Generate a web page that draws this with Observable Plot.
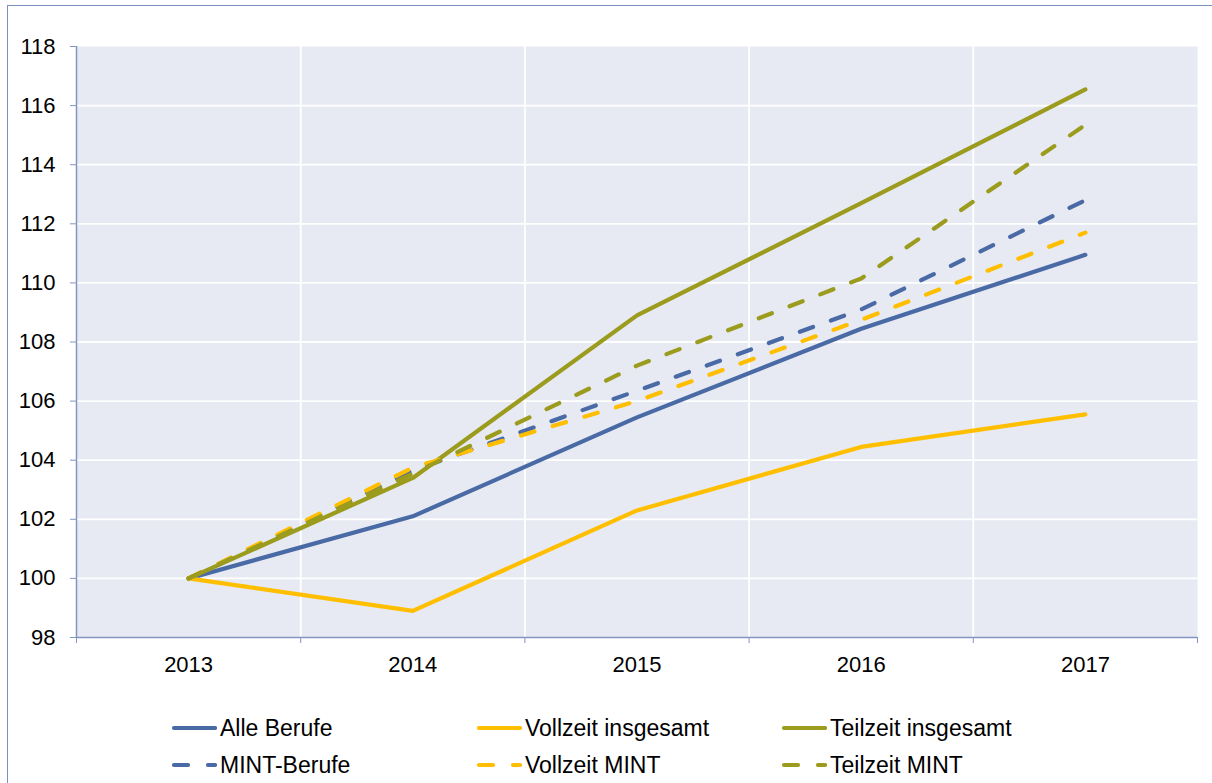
<!DOCTYPE html>
<html>
<head>
<meta charset="utf-8">
<script src="https://cdn.jsdelivr.net/npm/d3@7"></script>
<script src="https://cdn.jsdelivr.net/npm/@observablehq/plot@0.6"></script>
<style>
  html, body { margin: 0; padding: 0; background: #fff; overflow: hidden; }
  #wrap { position: relative; width: 1212px; height: 783px; font-family: "Liberation Sans", Arial, sans-serif; }
  #border { position: absolute; left: 7px; top: 5px; width: 1230px; height: 800px; border: 1.5px solid #7a90bf; box-sizing: border-box; }
  #chart { position: absolute; left: 0; top: 0; }
  .leg { position: absolute; display: flex; align-items: center; font-size: 23px; color: #000; white-space: nowrap; }
</style>
</head>
<body>
<div id="wrap">
  <div id="border"></div>
  <div id="chart"></div>
  <div id="legend"></div>
</div>
<script>
const years = [2013, 2014, 2015, 2016, 2017];
const alleBerufe        = [100, 102.1, 105.45, 108.45, 110.95];
const vollzeitInsgesamt = [100, 98.9, 102.3, 104.45, 105.55];
const teilzeitInsgesamt = [100, 103.4, 108.9, 112.7, 116.55];
const mintBerufe        = [100, 103.65, 106.35, 109.1, 112.8];
const vollzeitMint      = [100, 103.75, 106.0, 108.75, 111.7];
const teilzeitMint      = [100, 103.55, 107.2, 110.15, 115.35];

const seriesNames = ["Alle Berufe", "Vollzeit insgesamt", "Teilzeit insgesamt", "MINT-Berufe", "Vollzeit MINT", "Teilzeit MINT"];
const seriesValues = [alleBerufe, vollzeitInsgesamt, teilzeitInsgesamt, mintBerufe, vollzeitMint, teilzeitMint];
const seriesColors = ["#4a6aa6", "#ffbf00", "#9b9b1d", "#4a6aa6", "#ffbf00", "#9b9b1d"];
const seriesDashed = [false, false, false, true, true, true];
const yTicks = [98, 100, 102, 104, 106, 108, 110, 112, 114, 116, 118];
const yGrid = [100, 102, 104, 106, 108, 110, 112, 114, 116];

const xBoundaries = [2012.5, 2013.5, 2014.5, 2015.5, 2016.5, 2017.5];
const innerBoundaries = xBoundaries.slice(1, -1);

const rows = [];
seriesNames.forEach((name, i) => {
  years.forEach((yr, j) => rows.push({series: name, year: yr, value: seriesValues[i][j], idx: i}));
});

const axisColor = "#8396c2";
const lineMarks = seriesNames.map((name, i) => Plot.line(rows.filter(d => d.idx === i), {
  x: "year", y: "value",
  stroke: seriesColors[i],
  strokeWidth: 4.2,
  strokeLinecap: "round",
  strokeLinejoin: "round",
  strokeDasharray: seriesDashed[i] ? "14,19" : null
}));

const plot = Plot.plot({
  width: 1212,
  height: 690,
  marginLeft: 76,
  marginRight: 15,
  marginTop: 46,
  marginBottom: 53,
  style: { fontFamily: "'Liberation Sans', Arial, sans-serif", fontSize: "22px", color: "#000", background: "transparent" },
  x: { type: "linear", domain: [2012.5, 2017.5] },
  y: { domain: [98, 118] },
  marks: [
    Plot.frame({ fill: "#e7eaf2", stroke: null }),
    Plot.ruleY(yGrid, { stroke: "#ffffff", strokeWidth: 1.8 }),
    Plot.ruleX(innerBoundaries, { stroke: "#ffffff", strokeWidth: 1.8 }),
    ...lineMarks,
    Plot.ruleX([2012.5], { stroke: axisColor, strokeWidth: 1.5 }),
    Plot.ruleY([98], { stroke: axisColor, strokeWidth: 1.5 }),
    Plot.axisY(yTicks, { tickSize: 6, tickPadding: 15, stroke: axisColor, tickFormat: d => String(d), label: null, fontSize: 22, fill: "#000" }),
    Plot.axisX(xBoundaries, { tickSize: 6, stroke: axisColor, tickFormat: () => "", label: null }),
    Plot.axisX(years, { tickSize: 0, tickPadding: 19, tickFormat: d => String(d), label: null, fontSize: 22, fill: "#000" })
  ]
});
document.getElementById("chart").appendChild(plot);

// Legend
const legend = document.getElementById("legend");
const colX = [172, 477, 782];
const rowY = [728, 765];
const legendOrder = [[0, 3], [1, 4], [2, 5]];
legendOrder.forEach((col, c) => {
  col.forEach((si, r) => {
    const item = document.createElement("div");
    item.className = "leg";
    item.style.left = (colX[c] - 2) + "px";
    item.style.top = (rowY[r] - 17) + "px";
    item.style.height = "34px";
    const dash = seriesDashed[si] ? 'stroke-dasharray="14,20"' : "";
    item.innerHTML = `<svg width="47" height="34" style="margin-right:3px"><line x1="4" x2="45" y1="17" y2="17" stroke="${seriesColors[si]}" stroke-width="4.2" stroke-linecap="round" ${dash}/></svg><span>${seriesNames[si]}</span>`;
    legend.appendChild(item);
  });
});
</script>
</body>
</html>
